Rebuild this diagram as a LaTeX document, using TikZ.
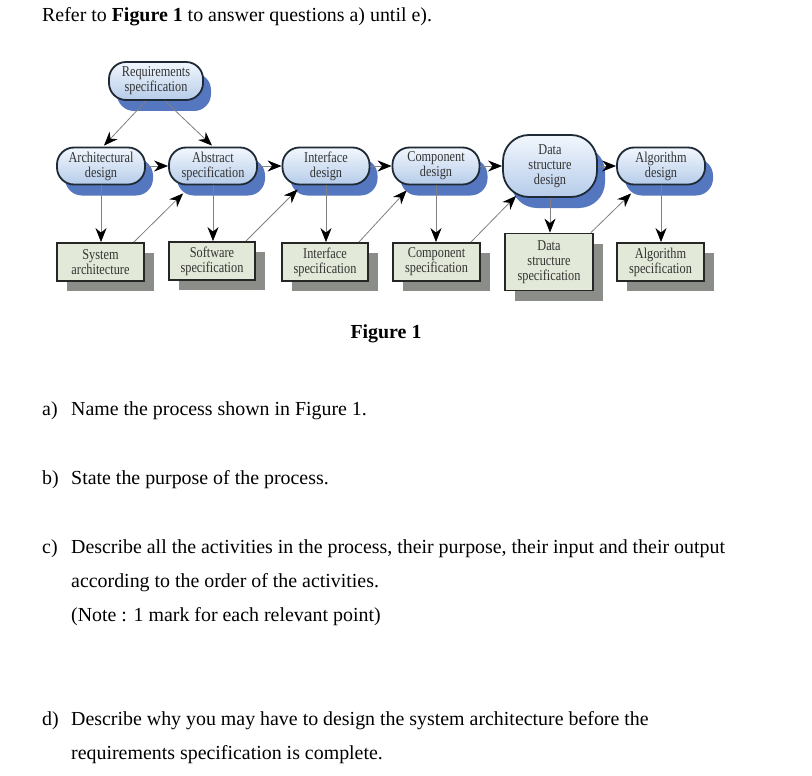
\documentclass[tikz,border=0pt]{standalone}
\usepackage{fontspec}
\setmainfont{Liberation Serif}
\newfontfamily\diagfont[FakeStretch=0.82]{Liberation Serif}
\usetikzlibrary{arrows.meta,shadows,calc}
\definecolor{nodeborder}{HTML}{1E2A36}
\definecolor{shadowblue}{HTML}{5577C0}
\definecolor{topblue}{HTML}{F2F7FD}
\definecolor{botblue}{HTML}{B6CCEA}
\definecolor{boxfill}{HTML}{E2E9D8}
\definecolor{boxshadow}{HTML}{8A8D88}
\definecolor{linegray}{HTML}{808080}
\definecolor{labeltext}{HTML}{333333}
\begin{document}
\begin{tikzpicture}[x=1pt,y=-1pt,
  diagtext/.style={font=\diagfont\fontsize{15}{15}\selectfont, text=labeltext, align=center, inner sep=0pt},
  design/.style={diagtext, draw=nodeborder, line width=1.8pt, rounded corners=17pt,
    top color=topblue, bottom color=botblue, minimum width=88pt, minimum height=37pt,
    general shadow={fill=shadowblue, shadow xshift=8pt, shadow yshift=-11pt}},
  specbox/.style={diagtext, draw=black!85, line width=1.8pt, fill=boxfill,
    minimum width=87pt, minimum height=38pt,
    general shadow={fill=boxshadow, shadow xshift=10pt, shadow yshift=-10pt}},
  flow/.style={draw=linegray, line width=0.8pt, -{Stealth[length=14pt,width=11pt,inset=4.5pt,color=black]}},
  qtext/.style={anchor=base west, inner sep=0pt, font=\fontsize{19.9}{22}\selectfont}
]
\useasboundingbox (0,0) rectangle (812,776);
\fill[white] (0,0) rectangle (812,776);

% title
\node[qtext] (title) at (42,22) {Refer to \textbf{Figure 1} to answer questions a) until e).};

% design nodes
\node[design, minimum width=94pt, minimum height=38pt] (req) at (156,81) {Requirements\\specification};
\node[design] (arch) at (101,166) {Architectural\\design};
\node[design] (abs) at (213,166) {Abstract\\specification};
\node[design, minimum width=87pt] (intf) at (326,166) {Interface\\design};
\node[design, minimum width=87pt] (comp) at (436,166) {Component\\design};
\node[design, minimum width=94pt, minimum height=62pt, rounded corners=26pt] (ds) at (550,166) {Data\\structure\\design};
\node[design] (alg) at (661,166) {Algorithm\\design};

% specification boxes
\node[specbox] (sys) at (100.5,262) {System\\architecture};
\node[specbox, minimum width=86pt] (sw) at (212,261) {Software\\specification};
\node[specbox, minimum width=86pt] (ispec) at (325,262) {Interface\\specification};
\node[specbox] (cspec) at (436.5,262) {Component\\specification};
\node[specbox, minimum width=88pt, minimum height=57pt] (dsspec) at (549,262) {Data\\structure\\specification};
\node[specbox] (aspec) at (660.5,262) {Algorithm\\specification};

% arrows from requirements
\draw[flow] ($(req.south)+(-10,0)$) -- ($(arch.north)+(3,-1)$);
\draw[flow] ($(req.south)+(9,0)$) -- ($(abs.north)+(-1,-1)$);

% horizontal arrows
\draw[flow] (arch.east) -- (abs.west);
\draw[flow] (abs.east) -- (intf.west);
\draw[flow] (intf.east) -- (comp.west);
\draw[flow] (comp.east) -- (ds.west);
\draw[flow] (ds.east) -- (alg.west);

% vertical arrows
\draw[flow] (arch.south) -- (arch.south |- sys.north);
\draw[flow] (abs.south) -- (abs.south |- sw.north);
\draw[flow] (intf.south) -- (intf.south |- ispec.north);
\draw[flow] (comp.south) -- (comp.south |- cspec.north);
\draw[flow] (ds.south) -- (ds.south |- dsspec.north);
\draw[flow] (alg.south) -- (alg.south |- aspec.north);

% diagonal arrows
\draw[flow] ($(sys.north east)+(-11,0)$) -- ($(abs.south west)+(15,8)$);
\draw[flow] ($(sw.north east)+(-10,0)$) -- ($(intf.south west)+(16,4)$);
\draw[flow] ($(ispec.north east)+(-10,0)$) -- ($(comp.south west)+(15,5)$);
\draw[flow] ($(cspec.north east)+(-10,0)$) -- ($(ds.south west)+(14,-2)$);
\draw[flow] ($(dsspec.north east)+(-3,0)$) -- ($(alg.south west)+(15,8)$);

% caption
\node[font=\fontsize{19.9}{22}\selectfont\bfseries, inner sep=0pt, anchor=base] (fig) at (386,338) {Figure 1};

% questions
\node[qtext] (la) at (42,415) {a)};
\node[qtext] (ta) at (71,415) {Name the process shown in Figure 1.};
\node[qtext] (lb) at (42,484) {b)};
\node[qtext] (tb) at (71,484) {State the purpose of the process.};
\node[qtext] (lc) at (42,553) {c)};
\node[qtext] (tc1) at (71,553) {Describe all the activities in the process, their purpose, their input and their output};
\node[qtext] (tc2) at (71,587) {according to the order of the activities.};
\node[qtext] (tc3) at (71,621) {(Note : 1 mark for each relevant point)};
\node[qtext] (ld) at (42,725) {d)};
\node[qtext] (td1) at (71,725) {Describe why you may have to design the system architecture before the};
\node[qtext] (td2) at (71,759) {requirements specification is complete.};
\end{tikzpicture}
\end{document}
